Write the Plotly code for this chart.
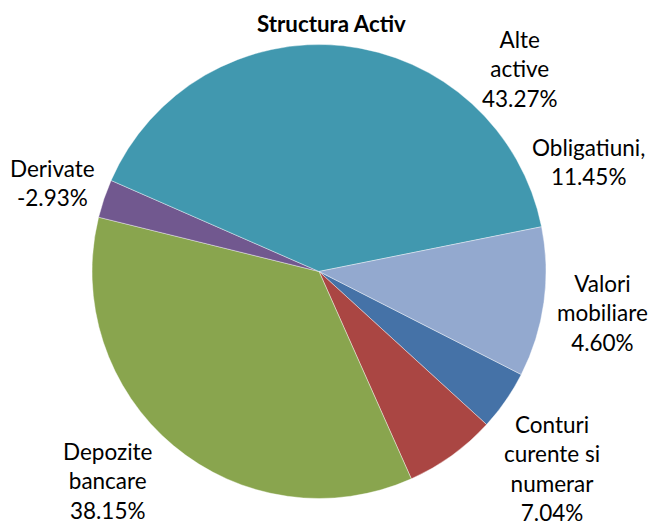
import plotly.graph_objects as go

# Data (order as drawn clockwise, starting from the dark blue slice)
categories = ["Valori<br>mobiliare", "Conturi<br>curente si<br>numerar", "Depozite<br>bancare",
              "Derivate", "Alte<br>active", "Obligatiuni,"]
percentages = [4.60, 7.04, 38.15, -2.93, 43.27, 11.45]
colors = ["#4572A7", "#AA4643", "#89A54E", "#71588F", "#4198AF", "#93A9CF"]

slice_sizes = [abs(p) for p in percentages]

fig = go.Figure(go.Pie(
    labels=[c.replace("<br>", " ") for c in categories],
    values=slice_sizes,
    sort=False,
    direction="clockwise",
    rotation=117,
    marker=dict(colors=colors, line=dict(color="white", width=0.4)),
    textinfo="none",
    hoverinfo="label+percent",
    showlegend=False,
    domain=dict(x=[0.1405, 0.8336], y=[0.0541, 0.9156]),
))

# Label placement (paper pixel positions, centre of each text block)
label_pos = [(602, 313), (552, 468), (108, 481), (52, 183), (520, 69), (588, 162)]
W, H = 655, 527
FONT = "Lato, 'Open Sans', sans-serif"
for cat, pct, (px, py) in zip(categories, percentages, label_pos):
    txt = f"{cat}<br>{pct:.2f}%"
    fig.add_annotation(
        x=px / W, y=1 - py / H, xref="paper", yref="paper",
        text=txt, showarrow=False, xanchor="center", yanchor="middle",
        align="center", borderpad=0,
        font=dict(family=FONT, size=22.5, color="#000000"),
    )

fig.add_annotation(
    x=331 / W, y=1 - 23 / H, xref="paper", yref="paper",
    text="<b>Structura Activ</b>", showarrow=False, xanchor="center", yanchor="middle",
    font=dict(family=FONT, size=22.3, color="#000000"),
)

fig.update_layout(
    width=W, height=H,
    margin=dict(l=0, r=0, t=0, b=0),
    paper_bgcolor="white", plot_bgcolor="white",
)

fig.write_html("out.html", config={"displayModeBar": False},
               post_script="document.body.style.margin='0';")
